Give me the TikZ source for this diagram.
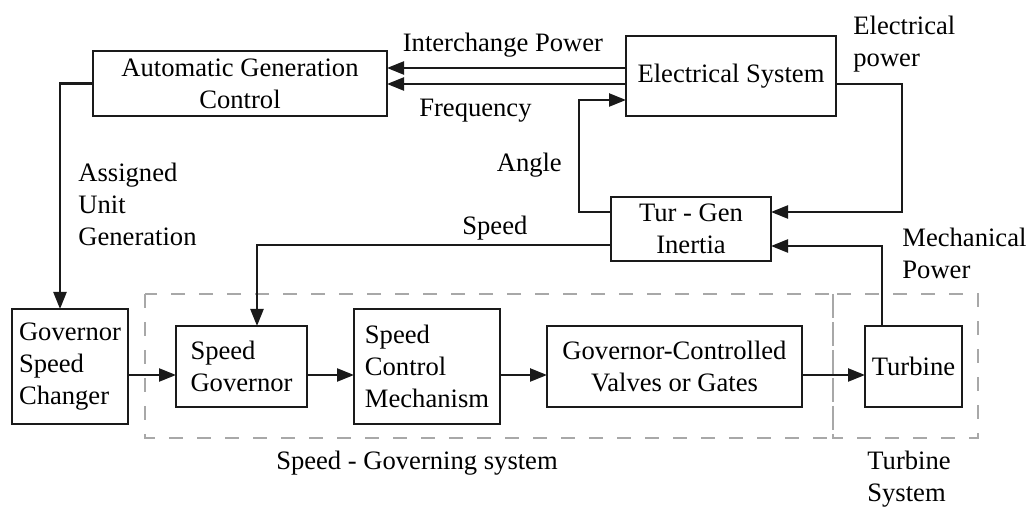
\documentclass[tikz,border=0pt]{standalone}
\usepackage{fontspec}
\setmainfont{Liberation Serif}
\usepackage{tikz}
\usetikzlibrary{arrows.meta,positioning}
\definecolor{cInk}{HTML}{1A1A1A}
\definecolor{cZone}{HTML}{A8A8A8}
\tikzset{
  blk/.style  = {draw=cInk, line width=1.2pt, align=center, inner sep=3pt,
                 outer sep=0pt, font=\fontsize{13.3pt}{16pt}\selectfont},
  flow/.style = {-{Triangle[length=8.5pt,width=6.5pt]}, line width=1.2pt, draw=cInk},
  zone/.style = {draw=cZone, line width=0.7pt, dash pattern=on 7pt off 7pt},
  lbl/.style  = {font=\fontsize{13.3pt}{16pt}\selectfont, inner sep=0pt},
}

\begin{document}
\begin{tikzpicture}[x=0.5pt, y=-0.5pt]
  \useasboundingbox (0,0) rectangle (1028,507);
  \draw[zone] (145,294) rectangle (833,438);
  \draw[zone] (833,294) rectangle (978,438);
  \node[blk, minimum width=147pt, minimum height=32.5pt] (agc) at (240,83.5)
    {Automatic Generation\\Control};
  \node[blk, minimum width=105pt, minimum height=40pt] (elec) at (731,76)
    {Electrical System};
  \node[blk, minimum width=80pt, minimum height=32pt] (tgi) at (691,229)
    {Tur - Gen\\Inertia};
  \node[blk, align=left, minimum width=58pt, minimum height=57.5pt] (gsc) at (70,366.5)
    {Governor\\Speed\\Changer};
  \node[blk, align=left, right=24pt of gsc, minimum width=65.5pt, minimum height=40.5pt] (sgov)
    {Speed\\Governor};
  \node[blk, align=left, right=23.5pt of sgov, minimum width=73pt, minimum height=57.5pt] (scm)
    {Speed\\Control\\Mechanism};
  \node[blk, right=23.5pt of scm, minimum width=127.5pt, minimum height=40.5pt] (gcv)
    {Governor-Controlled\\Valves or Gates};
  \node[blk, right=31.5pt of gcv, minimum width=48.5pt, minimum height=40.5pt] (turb)
    {Turbine};
  \draw[flow] ([yshift=4pt]elec.west) -- node[lbl, pos=0.515, above=5pt] (lint)
    {Interchange Power} ([yshift=4pt]elec.west -| agc.east);
  \draw[flow] ([yshift=-4pt]elec.west) -- node[lbl, pos=0.63, below=7pt] (lfrq)
    {Frequency} ([yshift=-4pt]elec.west -| agc.east);
  \draw[flow] ([yshift=8.5pt]tgi.west) -- ++(-16pt,0) |- node[lbl, pos=0.21, left=8pt] (lang)
    {Angle} ([yshift=-12pt]elec.west);
  \draw[flow] ([yshift=-4pt]elec.east) -- ++(33pt,0) |- ([yshift=8.5pt]tgi.east);
  \draw[flow] ([xshift=8.5pt]turb.north west) |- ([yshift=-8.5pt]tgi.east);
  \draw[flow] ([yshift=-8pt]tgi.west) -| node[lbl, pos=0.164, above=2pt] (lspd)
    {Speed} ([xshift=7.75pt]sgov.north);
  \draw[flow] (agc.west) -| ([xshift=-5pt]gsc.north);
  \draw[flow] ([yshift=-4.25pt]gsc.east) -- ([yshift=-4.25pt]sgov.west);
  \draw[flow] ([yshift=-4.25pt]sgov.east) -- ([yshift=-4.25pt]scm.west);
  \draw[flow] ([yshift=-4.25pt]scm.east) -- ([yshift=-4.25pt]gcv.west);
  \draw[flow] ([yshift=-4.25pt]gcv.east) -- ([yshift=-4.25pt]turb.west);
  \node[lbl, align=left, anchor=west] (lelp) at (853,44.5) {Electrical\\power};
  \node[lbl, align=left, anchor=west] (lmec) at (902,253.5) {Mechanical\\Power};
  \node[lbl, align=left, anchor=west] (laug) at (78,204.5) {Assigned\\Unit\\Generation};
  \node[lbl] (lsgs) at (417,463) {Speed - Governing system};
  \node[lbl, align=left, anchor=west] (ltsy) at (867,479) {Turbine\\System};
\end{tikzpicture}
\end{document}
